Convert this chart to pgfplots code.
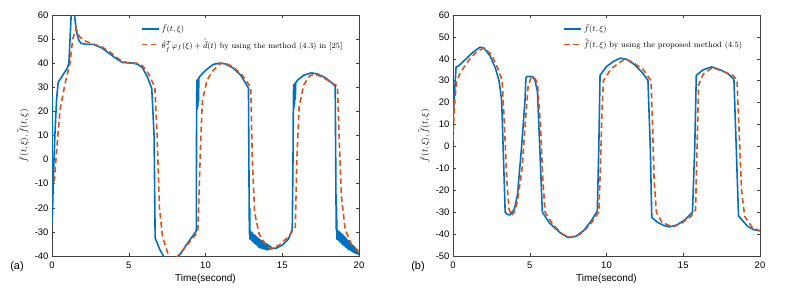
\documentclass[border=0pt]{standalone}
\usepackage{pgfplots}
\pgfplotsset{compat=1.18}
\usepackage{fontspec}
\setsansfont{Liberation Sans}
\definecolor{mblue}{rgb}{0,0.447,0.741}
\definecolor{mred}{rgb}{0.85,0.325,0.098}
\definecolor{axgray}{rgb}{0.25,0.25,0.25}
\pgfplotsset{
  mystyle/.style={
    scale only axis, width=307bp, height=241bp,
    xmin=0, xmax=20, xtick={0,5,10,15,20},
    tick align=inside, major tick length=3bp,
    axis line style={axgray, line width=0.5pt},
    every tick/.style={axgray, line width=0.5pt},
    tick label style={font=\sffamily\fontsize{9.5}{11}\selectfont, text=black},
    xticklabel style={yshift=-2bp},
    /pgf/number format/assume math mode=true,
    xlabel={\sffamily\fontsize{10}{12}\selectfont Time(second)},
    xlabel style={yshift=1bp},
    ylabel style={yshift=-1bp, font=\fontsize{9.5}{11}\selectfont},
    clip=true,
    legend cell align=left,
    legend style={draw=none, fill=none, font=\fontsize{8}{9.5}\selectfont, row sep=2bp,
      /tikz/every even column/.append style={column sep=3bp}},
  },
  myline/.style={color=mblue, line width=1.6pt, line join=round},
  mydash/.style={color=mred, line width=1.6pt, dash pattern=on 5.5pt off 3.5pt},
}
\begin{document}
\begin{tikzpicture}
\begin{axis}[mystyle, at={(52bp,35bp)},
  ymin=-40, ymax=60, ytick={-40,-30,...,60},
  ylabel={$\bar f(t,\xi),\tilde{\bar f}(t,\xi)$},
  legend style={at={(0.28,0.975)}, anchor=north west}]
\addplot[myline] coordinates {
(0,26.7) (0.02,-25.4) (0.1,-5) (0.2,12) (0.3,25) (0.4,32) (0.7,35) (1.0,38) (1.1,40)
(1.25,60) (1.3,65) (1.45,62) (1.5,58) (1.6,53) (1.75,49.5) (1.9,48.2) (2.3,47.8) (2.7,47.8)
(3.2,46.5) (3.6,44.7) (4.2,41.8) (4.6,40.3) (5.3,40) (5.6,39.5) (5.9,38) (6.2,34.5) (6.5,29.5)
(6.65,10) (6.72,-32.5) (7.0,-37) (7.25,-40) (7.7,-44) (8.27,-40) (8.8,-35) (9.4,-29.6)
(9.42,20) (9.44,33) (9.46,21) (9.48,33) (9.5,22) (9.52,33.5) (9.54,24) (9.57,34) (9.7,35)
(10.0,37) (10.5,39.5) (10.9,40) (11.3,39.7) (11.8,38) (12.3,35) (12.8,29.7)
(12.84,-15) (12.86,-31) (12.88,-20) (12.9,-33)
(12.95,-29.8) (13.0,-33.6) (13.05,-30.4) (13.1,-34.2) (13.15,-31) (13.2,-34.8) (13.25,-31.5)
(13.3,-35.3) (13.35,-32.1) (13.4,-35.9) (13.45,-32.7) (13.5,-36.5) (13.55,-33.2) (13.6,-36.7)
(13.65,-33.6) (13.7,-36.9) (13.75,-34) (13.8,-37.1) (13.85,-34.4) (13.9,-37.3) (13.95,-34.8)
(14.0,-37.5) (14.05,-35.2) (14.1,-37.3) (14.15,-35.6) (14.2,-37.2) (14.25,-36.1) (14.3,-37)
(14.4,-36.8) (14.6,-36.8) (15.0,-35.5) (15.4,-33) (15.65,-29)
(15.7,0) (15.72,20) (15.74,31) (15.76,21) (15.78,31) (15.8,23) (15.82,31.5) (15.85,25) (15.88,32)
(16.0,33) (16.4,35) (16.9,36) (17.3,35.5) (17.8,34) (18.2,32) (18.45,30.5)
(18.5,-16) (18.52,-29) (18.54,-20) (18.56,-33)
(18.6,-29.3) (18.65,-33.4) (18.7,-29.8) (18.75,-34.1) (18.8,-30.4) (18.85,-34.8) (18.9,-30.9)
(18.95,-35.4) (19.0,-31.5) (19.05,-35.8) (19.1,-32.2) (19.15,-36.4) (19.2,-32.9) (19.25,-37)
(19.3,-33.6) (19.35,-37.4) (19.4,-34.3) (19.45,-37.7) (19.5,-35) (19.55,-38.2) (19.6,-35.6)
(19.65,-38.5) (19.7,-36.2) (19.75,-38.8) (19.8,-36.8) (19.85,-39) (19.9,-37.4) (19.95,-39.3)
(20,-38.6)
};
\addlegendentry{$\bar f(t,\xi)$}
\addplot[mydash] coordinates {
(0.15,-9) (0.3,3.7) (0.52,20.4) (0.85,31.5) (1.17,39.9) (1.35,50) (1.56,54.4) (1.8,51)
(2.04,49.6) (2.6,48) (3.2,47) (3.8,44.5) (4.4,41.5) (4.9,40.2) (5.5,40) (5.9,39) (6.3,35.5)
(6.7,30) (6.85,10) (7.0,-20) (7.2,-32) (7.6,-40) (7.9,-42) (8.2,-40) (8.8,-35.5) (9.5,-30)
(9.6,-10) (9.7,10) (9.8,24.6) (10.1,33) (10.5,37) (11.0,40) (11.3,40) (11.8,38.5) (12.4,35)
(12.95,30) (13.05,0) (13.2,-22) (13.5,-31) (14.0,-36) (14.3,-37) (14.8,-35.5) (15.4,-32)
(15.85,-28) (15.95,0) (16.1,22) (16.4,31) (16.8,34.8) (17.1,35.5) (17.6,34.3) (18.2,32)
(18.6,30.5) (18.7,10) (18.85,-15) (19.1,-29) (19.5,-35) (20,-38.5)
};
\addlegendentry{$\hat\theta_f^T\varphi_f(\xi)+\hat{\bar d}(t)$ by using the method (4.3) in [25]}
\end{axis}
\begin{axis}[mystyle, at={(453bp,35bp)},
  ymin=-50, ymax=60, ytick={-50,-40,...,60},
  ylabel={$\bar f(t,\xi),\tilde{\bar f}(t,\xi)$},
  legend style={at={(0.35,0.975)}, anchor=north west}]
\addplot[myline] coordinates {
(0,12.3) (0.2,36.2) (0.4,37) (0.9,40.3) (1.3,43) (1.75,45.3) (2.0,45) (2.4,41.5) (2.75,36)
(3.0,30) (3.17,21) (3.4,-30.1) (3.55,-31) (3.7,-31.3) (4.0,-28.6) (4.2,-22) (4.47,0) (4.69,21)
(4.75,31.3) (4.85,32) (5.2,31.8) (5.35,30) (5.5,25) (5.65,0) (5.82,-30) (6.3,-35) (7.0,-39.5)
(7.5,-41.6) (8.0,-41) (8.5,-38.5) (9.0,-34) (9.4,-29.4) (9.5,0) (9.58,32.5) (10.0,36.5)
(10.5,39) (10.9,40.3) (11.3,39.8) (11.8,37.5) (12.3,34) (12.7,30.2) (12.85,0) (12.95,-32.4)
(13.3,-34.5) (13.7,-36) (14.1,-36.7) (14.6,-35.8) (15.1,-33.5) (15.6,-30.1) (15.75,0)
(15.85,32.5) (16.3,35) (16.85,36.3) (17.4,35) (17.9,33.3) (18.3,30.7) (18.45,0) (18.6,-31.7)
(19.2,-36.5) (19.6,-38) (20,-38.5)
};
\addlegendentry{$\bar f(t,\xi)$}
\addplot[mydash] coordinates {
(0,2.7) (0.1,20) (0.24,29.7) (0.5,34) (1.1,40) (1.5,43) (2.0,45) (2.5,42) (2.9,36) (3.2,30)
(3.35,10) (3.5,-15) (3.65,-28.5) (3.8,-31.5) (4.0,-30) (4.2,-25) (4.5,-10) (4.7,10) (4.9,28)
(5.1,31.5) (5.3,31.5) (5.5,29) (5.7,10) (5.85,-15) (6.0,-30) (6.5,-35.5) (7.1,-40) (7.7,-41.5)
(8.3,-40) (8.9,-36) (9.5,-30) (9.6,-10) (9.7,15) (9.8,30) (10.3,35.5) (11.2,40) (11.7,38.5)
(12.4,35) (12.9,30) (13.0,10) (13.1,-15) (13.25,-30) (13.6,-34.5) (14.3,-36.8) (14.9,-35)
(15.5,-32) (15.8,-29) (15.9,0) (16.0,28) (16.3,33) (16.9,36) (17.5,34.5) (18.2,32.5)
(18.5,30.5) (18.65,5) (18.8,-20) (19.0,-32) (19.5,-37) (20,-38.5)
};
\addlegendentry{$\tilde{\bar f}(t,\xi)$ by using the proposed method (4.5)}
\end{axis}
\node[font=\sffamily\fontsize{11}{13}\selectfont] at (17bp,24bp) {(a)};
\node[font=\sffamily\fontsize{11}{13}\selectfont] at (418bp,24bp) {(b)};
\pgfresetboundingbox
\path[use as bounding box] (0,0) rectangle (795bp,291bp);
\end{tikzpicture}
\end{document}
